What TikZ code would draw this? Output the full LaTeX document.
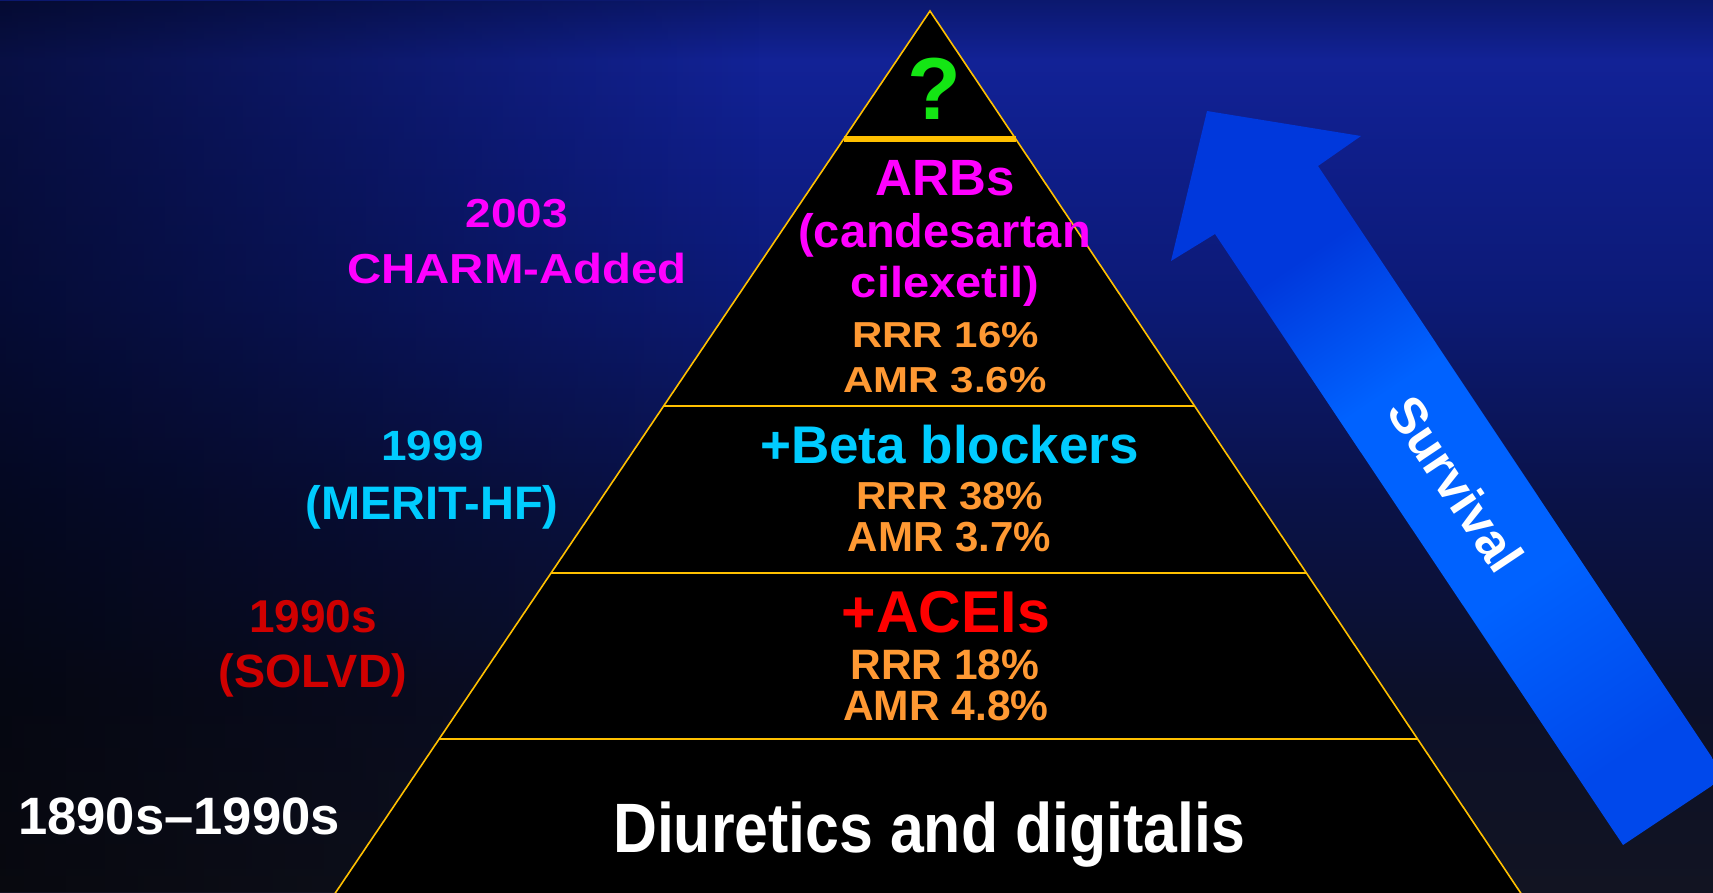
\documentclass[tikz,border=0pt]{standalone}
\usepackage{fontspec}
\setmainfont{Liberation Sans}
\usepackage{graphicx}
\usetikzlibrary{calc,fadings}

\definecolor{bgA}{RGB}{11,24,110}
\definecolor{bgB}{RGB}{18,34,150}
\definecolor{bgC}{RGB}{15,30,138}
\definecolor{bgD}{RGB}{12,26,118}
\definecolor{bgE}{RGB}{10,18,72}
\definecolor{bgF}{RGB}{12,16,40}
\definecolor{bgG}{RGB}{18,20,34}
\definecolor{gold}{RGB}{255,192,0}
\definecolor{qgreen}{RGB}{20,230,20}
\definecolor{mag}{RGB}{255,0,255}
\definecolor{cyanT}{RGB}{0,204,255}
\definecolor{orangeT}{RGB}{255,153,51}
\definecolor{redT}{RGB}{255,0,0}
\definecolor{dred}{RGB}{208,0,0}
\definecolor{arrA}{RGB}{0,56,220}
\definecolor{arrB}{RGB}{0,98,255}
\definecolor{arrC}{RGB}{0,72,235}
\definecolor{streak}{RGB}{40,62,200}
\definecolor{grey}{RGB}{70,80,120}

\pgfdeclareverticalshading{bgshade}{100bp}{color(0bp)=(bgG); color(25bp)=(bgG); color(35.8bp)=(bgF); color(47bp)=(bgE); color(58.2bp)=(bgD); color(66.6bp)=(bgC); color(71.6bp)=(bgB); color(75bp)=(bgA); color(100bp)=(bgA)}
\pgfdeclareverticalshading{arrowshade}{100bp}{color(0bp)=(arrC); color(25bp)=(arrC); color(40bp)=(arrB); color(58bp)=(arrB); color(70bp)=(arrA); color(75bp)=(arrA); color(100bp)=(arrA)}

\tikzfading[name=band, top color=transparent!100, middle color=transparent!0, bottom color=transparent!100]

\newcommand{\fsz}[1]{\fontsize{#1}{#1}\selectfont}
\newcommand{\sy}[2]{\scalebox{1}[#1]{#2}}

\tikzset{
  lbl/.style={inner sep=0pt, anchor=base},
  goldline/.style={draw=gold, line width=1.6pt},
}

\begin{document}
\begin{tikzpicture}[x=1pt,y=-1pt]
\useasboundingbox (0,0) rectangle (1713,892);
\clip (0,0) rectangle (1713,892);

% background
\shade[shading=bgshade] (0,0) rectangle (1713,892);
\fill[streak, fill opacity=0.45, path fading=band] (0,40) rectangle (900,100);
\fill[streak, fill opacity=0.25, path fading=band] (0,130) rectangle (700,190);
\fill[black, fill opacity=0.55, path fading=east] (0,0) rectangle (760,892);
\fill[grey, fill opacity=0.35, path fading=band] (1250,440) rectangle (1713,490);
\fill[grey, fill opacity=0.30, path fading=band] (1200,520) rectangle (1713,570);
\fill[grey, fill opacity=0.35, path fading=band] (1350,600) rectangle (1713,640);
\fill[grey, fill opacity=0.30, path fading=band] (1300,760) rectangle (1713,810);

% arrow
\coordinate (tip) at (1207,111);
\coordinate (rb) at (1361,136);
\coordinate (rn) at (1318,166);
\coordinate (be) at (1725,777);
\coordinate (bl) at (1623,845);
\coordinate (ln) at (1215,234);
\coordinate (lb) at (1171,261);
\shade[shading=arrowshade, shading angle=34]
  (tip) -- (rb) -- (rn) -- (be) -- (bl) -- (ln) -- (lb) -- cycle;
\node[rotate=-56.3, text=white, font=\bfseries\fsz{51}, inner sep=0pt] (surv) at (1456,484) {Survival};

% pyramid
\coordinate (apex) at (930,11);
\coordinate (pbl) at (330.6,900);
\coordinate (pbr) at (1525.4,900);
\fill[black] (pbl) -- (apex) -- (pbr) -- cycle;
\draw[goldline] (pbl) -- (apex) -- (pbr);
\coordinate (s0l) at ($(apex)!0.14398!(pbl)$);
\coordinate (s0r) at ($(apex)!0.14398!(pbr)$);
\coordinate (s1l) at ($(apex)!0.44432!(pbl)$);
\coordinate (s1r) at ($(apex)!0.44432!(pbr)$);
\coordinate (s2l) at ($(apex)!0.63217!(pbl)$);
\coordinate (s2r) at ($(apex)!0.63217!(pbr)$);
\coordinate (s3l) at ($(apex)!0.81890!(pbl)$);
\coordinate (s3r) at ($(apex)!0.81890!(pbr)$);
\draw[draw=gold, line width=5.5pt] (s0l) -- (s0r);
\draw[goldline] (s1l) -- (s1r);
\draw[goldline] (s2l) -- (s2r);
\draw[goldline] (s3l) -- (s3r);

% pyramid texts
\node[lbl, text=qgreen, font=\bfseries\fsz{88}] (q) at (934,119) {?};
\node[lbl, text=mag, font=\bfseries\fsz{51}] (arb) at (945,195) {ARBs};
\node[lbl, text=mag, font=\bfseries\fsz{47}] (cand) at (944.5,247) {(candesartan};
\node[lbl, text=mag, font=\bfseries\fsz{47}] (cil) at (945,297) {\sy{0.92}{cilexetil)}};
\node[lbl, text=orangeT, font=\bfseries\fsz{42}] (rrr1) at (945.5,347) {\sy{0.86}{RRR 16\%}};
\node[lbl, text=orangeT, font=\bfseries\fsz{42}] (amr1) at (945,392) {\sy{0.86}{AMR 3.6\%}};
\node[lbl, text=cyanT, font=\bfseries\fsz{53}] (beta) at (949.5,463) {+Beta blockers};
\node[lbl, text=orangeT, font=\bfseries\fsz{42}] (rrr2) at (950,509) {\sy{0.93}{RRR 38\%}};
\node[lbl, text=orangeT, font=\bfseries\fsz{42}] (amr2) at (949.5,551) {AMR 3.7\%};
\node[lbl, text=redT, font=\bfseries\fsz{59}] (acei) at (946,632) {+ACEIs};
\node[lbl, text=orangeT, font=\bfseries\fsz{42.5}] (rrr3) at (945,679) {RRR 18\%};
\node[lbl, text=orangeT, font=\bfseries\fsz{42.5}] (amr3) at (946,720) {AMR 4.8\%};
\node[lbl, text=white, font=\bfseries\fsz{60.8}] (diur) at (929,852) {\sy{1.15}{Diuretics and digitalis}};

% left labels
\node[lbl, text=mag, font=\bfseries\fsz{46}] (y2003) at (517,227) {\sy{0.88}{2003}};
\node[lbl, text=mag, font=\bfseries\fsz{47.4}] (charm) at (517,283) {\sy{0.885}{CHARM-Added}};
\node[lbl, text=cyanT, font=\bfseries\fsz{46}] (y1999) at (432.5,460) {\sy{0.92}{1999}};
\node[lbl, text=cyanT, font=\bfseries\fsz{47}] (merit) at (432,519) {(MERIT-HF)};
\node[lbl, text=dred, font=\bfseries\fsz{46}] (y1990) at (313,632) {1990s};
\node[lbl, text=dred, font=\bfseries\fsz{46.7}] (solvd) at (313,687) {(SOLVD)};
\node[lbl, text=white, font=\bfseries\fsz{52.6}] (range) at (179,834) {1890s\textendash 1990s};
\end{tikzpicture}
\end{document}
